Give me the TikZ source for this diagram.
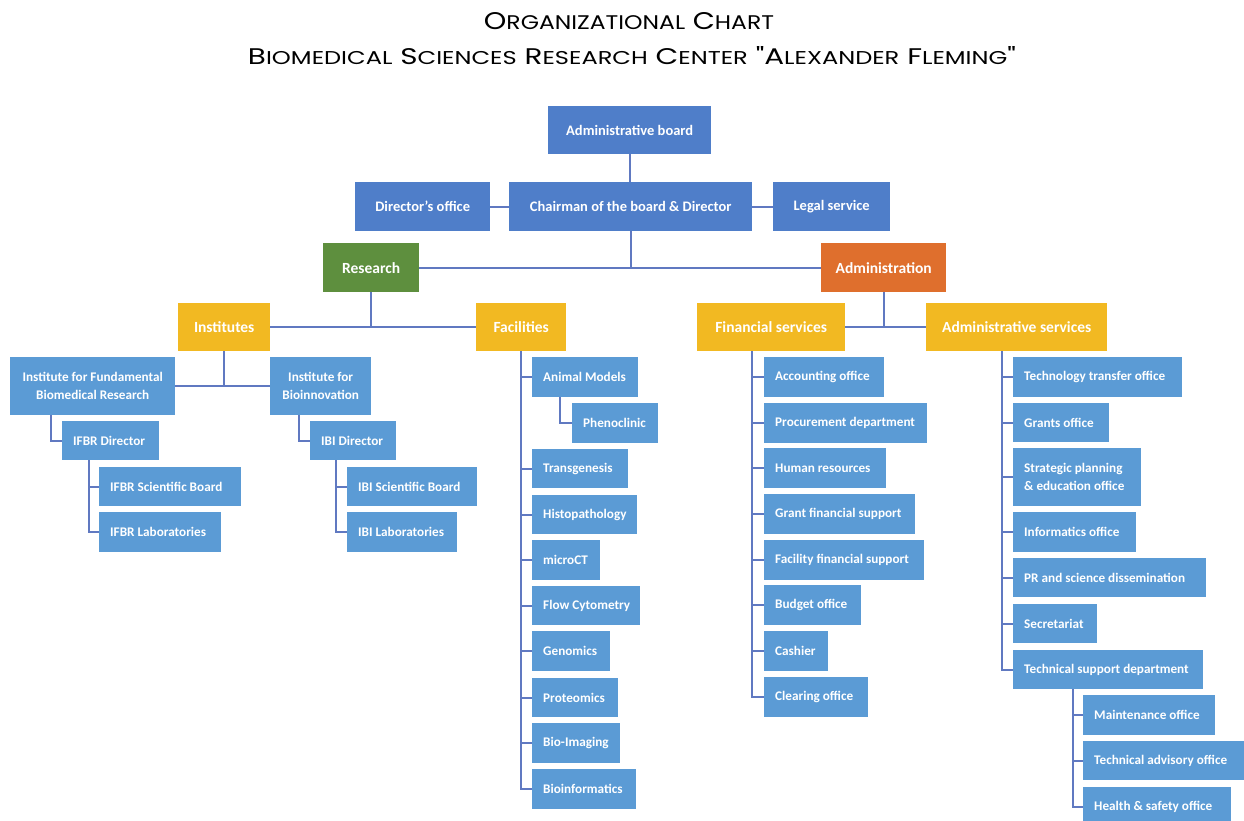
\documentclass[tikz,border=0pt]{standalone}
\usepackage{fontspec}
\setmainfont{Carlito}
\newfontfamily\titlefont{Poppins}
\usetikzlibrary{calc}

\definecolor{topblue}{HTML}{4F7EC9}
\definecolor{childblue}{HTML}{5B9BD5}
\definecolor{linecol}{HTML}{6079C1}
\definecolor{resgreen}{HTML}{5E8F3E}
\definecolor{admorange}{HTML}{DF6F2D}
\definecolor{yel}{HTML}{F2B922}

% small-caps style word: capital first letter, smaller capitals after it
\newcommand\ttl[2]{{\fontsize{10}{10}\selectfont #1}{\fontsize{8.2}{8.2}\selectfont #2}}

% centred box: name, x1, y1, x2, y2, style, text
\newcommand\cenbox[7]{%
  \pgfmathsetmacro\bw{#4-#2}\pgfmathsetmacro\bh{#5-#3}%
  \node[#6, minimum width=\bw pt, minimum height=\bh pt] (#1) at (#2,#3) {#7};}
% left-aligned unit box: name, x1, y1, x2, y2, text
\newcommand\cbox[6]{%
  \pgfmathsetmacro\bw{#4-#2}\pgfmathsetmacro\bh{#5-#3}\pgfmathsetmacro\tw{#4-#2-22}%
  \node[unit, minimum width=\bw pt, minimum height=\bh pt] (#1) at (#2,#3) {\makebox[\tw pt][l]{#6}};}
% vertical trunk from a parent down to its last child, with a stub to each child
\newcommand\branch[4]{%
  \path (#4.west) ++(-#2pt,0) coordinate (#1-j);
  \draw[conn] (#1-j |- #1.south) -- (#1-j) -- (#4.west);
  \foreach \c in {#3} {\draw[conn] (#1-j |- \c.west) -- (\c.west);}}

\begin{document}
\begin{tikzpicture}[x=1pt,y=-1pt,
  box/.style={anchor=north west, inner sep=0pt, align=center, text=white},
  topbox/.style={box, fill=topblue, font=\fontsize{14.5}{17}\selectfont\bfseries},
  greenbox/.style={box, fill=resgreen, font=\fontsize{15.5}{18}\selectfont\bfseries},
  orangebox/.style={box, fill=admorange, font=\fontsize{15.5}{18}\selectfont\bfseries},
  yelbox/.style={box, fill=yel, font=\fontsize{15.5}{18}\selectfont\bfseries},
  unitc/.style={box, fill=childblue, font=\fontsize{13.2}{17.6}\selectfont\bfseries},
  unit/.style={anchor=north west, inner xsep=11pt, inner ysep=0pt, fill=childblue, text=white,
    font=\fontsize{13.2}{17.6}\selectfont\bfseries},
  conn/.style={draw=linecol, line width=2pt}]

\clip (0,0) rectangle (1244,821);
\fill[white] (0,0) rectangle (1244,821);

% heading
\node[inner sep=0pt] (t1) at (629,21.5)
  {\resizebox{290pt}{17pt}{\titlefont\ttl{O}{RGANIZATIONAL} \ttl{C}{HART}}};
\node[inner sep=0pt] (t2) at (632,56)
  {\resizebox{768pt}{18pt}{\titlefont\ttl{B}{IOMEDICAL} \ttl{S}{CIENCES} \ttl{R}{ESEARCH} \ttl{C}{ENTER} "\ttl{A}{LEXANDER} \ttl{F}{LEMING}"}};

% direction
\cenbox{ab}{548}{106}{711}{154}{topbox}{Administrative board}
\cenbox{dir}{355}{182}{490}{231}{topbox}{Director’s office}
\cenbox{chair}{509}{182}{752}{231}{topbox}{Chairman of the board \& Director}
\cenbox{legal}{773}{182}{890}{231}{topbox}{Legal service}

% divisions
\cenbox{res}{323}{243}{419}{292}{greenbox}{Research}
\cenbox{adm}{821}{243}{946}{292}{orangebox}{Administration}
\cenbox{inst}{178}{303}{270}{351}{yelbox}{Institutes}
\cenbox{fac}{476}{303}{566}{351}{yelbox}{Facilities}
\cenbox{fin}{697}{303}{845}{351}{yelbox}{Financial services}
\cenbox{ads}{926}{303}{1107}{351}{yelbox}{Administrative services}

% institutes
\cenbox{ifbr}{10}{357}{175}{415}{unitc}{Institute for Fundamental\\Biomedical Research}
\cenbox{ibi}{270}{357}{371}{415}{unitc}{Institute for\\Bioinnovation}
\cbox{ifbrd}{62}{421}{159}{460}{IFBR Director}
\cbox{ifbrsb}{99}{467}{241}{506}{IFBR Scientific Board}
\cbox{ifbrlab}{99}{512}{221}{552}{IFBR Laboratories}
\cbox{ibid}{310}{421}{396}{460}{IBI Director}
\cbox{ibisb}{347}{467}{477}{506}{IBI Scientific Board}
\cbox{ibilab}{347}{512}{457}{552}{IBI Laboratories}

% facilities
\cbox{am}{532}{357}{638}{397}{Animal Models}
\cbox{phe}{572}{403}{658}{443}{Phenoclinic}
\cbox{tg}{532}{449}{628}{488}{Transgenesis}
\cbox{hp}{532}{495}{637}{534}{Histopathology}
\cbox{mct}{532}{540}{600}{580}{microCT}
\cbox{fc}{532}{586}{640}{625}{Flow Cytometry}
\cbox{gen}{532}{631}{610}{671}{Genomics}
\cbox{prot}{532}{678}{618}{717}{Proteomics}
\cbox{bim}{532}{723}{620}{763}{Bio-Imaging}
\cbox{binf}{532}{769}{636}{809}{Bioinformatics}

% financial services
\cbox{acc}{764}{357}{884}{397}{Accounting office}
\cbox{proc}{764}{403}{927}{443}{Procurement department}
\cbox{hr}{764}{448}{886}{488}{Human resources}
\cbox{gfs}{764}{494}{915}{534}{Grant financial support}
\cbox{ffs}{764}{540}{924}{580}{Facility financial support}
\cbox{bud}{764}{585}{861}{625}{Budget office}
\cbox{cash}{764}{631}{828}{671}{Cashier}
\cbox{clr}{764}{677}{868}{717}{Clearing office}

% administrative services
\cbox{tto}{1013}{357}{1182}{397}{Technology transfer office}
\cbox{gro}{1013}{403}{1109}{442}{Grants office}
\cbox{spe}{1013}{448}{1141}{506}{\parbox{106pt}{\raggedright Strategic planning\\\& education office}}
\cbox{info}{1013}{512}{1136}{552}{Informatics office}
\cbox{pr}{1013}{558}{1206}{597}{PR and science dissemination}
\cbox{sec}{1013}{604}{1097}{643}{Secretariat}
\cbox{tsd}{1013}{650}{1203}{689}{Technical support department}
\cbox{mnt}{1083}{695}{1215}{735}{Maintenance office}
\cbox{tao}{1083}{741}{1246}{780}{Technical advisory office}
\cbox{hso}{1083}{787}{1231}{826}{Health \& safety office}

% upper connectors
\draw[conn] (ab.south) -- (ab.south |- chair.north);
\draw[conn] (dir.east) -- (chair.west);
\draw[conn] (chair.east) -- (legal.west);
\draw[conn] (res.east) -- (adm.west);
\draw[conn] (chair.south) -- (chair.south |- res.east);
\draw[conn] (res.south) -- (res.south |- inst.east);
\draw[conn] (inst.east) -- (fac.west);
\draw[conn] (adm.south) -- (adm.south |- fin.east);
\draw[conn] (fin.east) -- (ads.west);
\draw[conn] (inst.south) -- (inst.south |- ifbr.east);
\draw[conn] (ifbr.east) -- (ibi.west);

% trees
\branch{ifbr}{11}{ifbrd}{ifbrd}
\branch{ifbrd}{10}{ifbrsb,ifbrlab}{ifbrlab}
\branch{ibi}{11}{ibid}{ibid}
\branch{ibid}{11}{ibisb,ibilab}{ibilab}
\branch{fac}{11}{am,tg,hp,mct,fc,gen,prot,bim,binf}{binf}
\branch{am}{12}{phe}{phe}
\branch{fin}{12}{acc,proc,hr,gfs,ffs,bud,cash,clr}{clr}
\branch{ads}{11}{tto,gro,spe,info,pr,sec,tsd}{tsd}
\branch{tsd}{10}{mnt,tao,hso}{hso}

\end{tikzpicture}
\end{document}
